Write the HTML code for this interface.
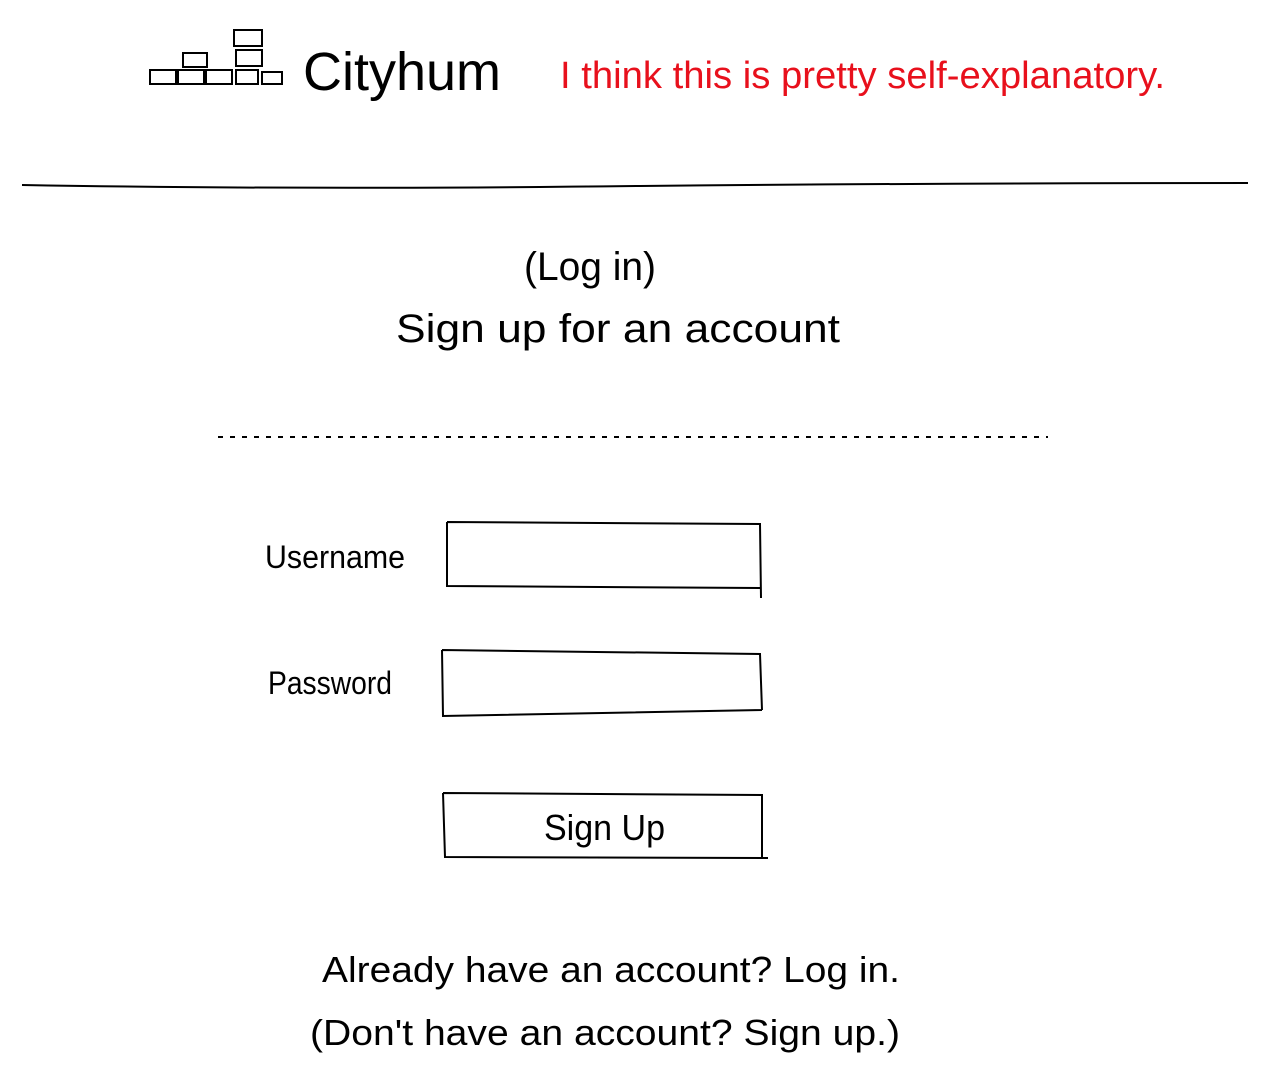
<!DOCTYPE html>
<html><head><meta charset="utf-8"><style>
html,body{margin:0;padding:0;background:#fff;width:1275px;height:1091px;overflow:hidden}
svg{display:block}
text{font-family:"Liberation Sans",sans-serif;font-weight:normal}
</style></head><body>
<svg width="1275" height="1091" viewBox="0 0 1275 1091" xmlns="http://www.w3.org/2000/svg">
<g fill="none" stroke="#000" stroke-width="2">
  <rect x="150" y="70" width="26" height="14"/>
  <rect x="178" y="70" width="26" height="14"/>
  <rect x="206" y="70" width="26" height="14"/>
  <rect x="236" y="70" width="22" height="14"/>
  <rect x="262" y="72" width="20" height="12"/>
  <rect x="183" y="53" width="24" height="14"/>
  <rect x="236" y="50" width="26" height="16"/>
  <rect x="234" y="30" width="28" height="16"/>
  <path d="M22 185 Q300 190 640 186 Q950 183 1248 183"/>
  <path d="M447 522 L760 524 L761 598 M447 522 L447 586 L760 588"/>
  <path d="M442 650 L760 654 L762 710 M442 650 L443 716 L762 710"/>
  <path d="M443 793 L762 795 L762 858 M443 793 L445 857 L768 858"/>
</g>
<line x1="218" y1="437" x2="1048" y2="437" stroke="#000" stroke-width="2" stroke-dasharray="5 7"/>
<text x="303" y="90" font-size="54" textLength="198" lengthAdjust="spacingAndGlyphs" fill="#000">Cityhum</text>
<text x="560" y="88" font-size="38" textLength="605" lengthAdjust="spacingAndGlyphs" fill="#e8101c">I think this is pretty self-explanatory.</text>
<text x="524" y="280" font-size="40" textLength="132" lengthAdjust="spacingAndGlyphs">(Log in)</text>
<text x="396" y="342" font-size="40" textLength="444" lengthAdjust="spacingAndGlyphs">Sign up for an account</text>
<text x="265" y="568" font-size="32" textLength="140" lengthAdjust="spacingAndGlyphs">Username</text>
<text x="268" y="694" font-size="32" textLength="124" lengthAdjust="spacingAndGlyphs">Password</text>
<text x="544" y="840" font-size="36" textLength="121" lengthAdjust="spacingAndGlyphs">Sign Up</text>
<text x="322" y="982" font-size="36" textLength="578" lengthAdjust="spacingAndGlyphs">Already have an account? Log in.</text>
<text x="310" y="1045" font-size="36" textLength="590" lengthAdjust="spacingAndGlyphs">(Don't have an account? Sign up.)</text>
</svg>
</body></html>
